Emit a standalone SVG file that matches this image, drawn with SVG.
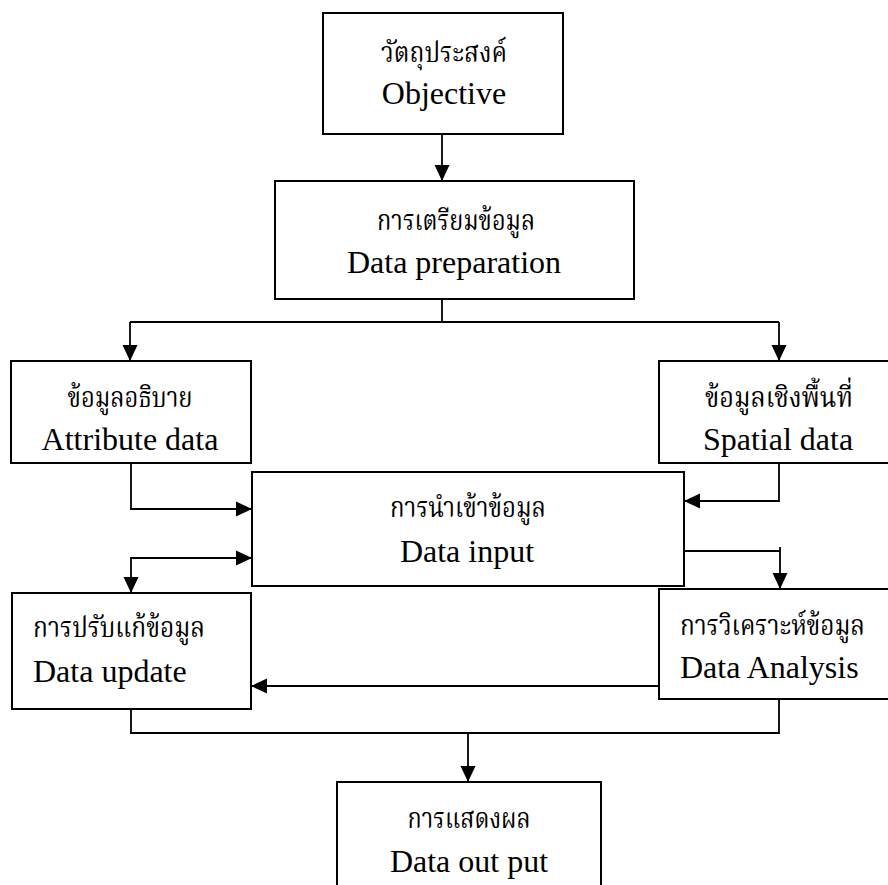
<svg xmlns="http://www.w3.org/2000/svg" width="888" height="885" viewBox="0 0 888 885">
<style>
.box{fill:#fff;stroke:#000;stroke-width:2}
.ln{fill:none;stroke:#000;stroke-width:1.8}
.en{font-family:"Liberation Serif","Times New Roman",serif;font-size:32px;fill:#000}
.th{font-family:"Noto Serif Thai","Noto Sans Thai","Norasi","Garuda","Loma","Liberation Serif",serif;font-size:28px;fill:#000}
.c{text-anchor:middle}
</style>
<defs>
<marker id="ah" markerUnits="userSpaceOnUse" markerWidth="18" markerHeight="18" viewBox="0 0 18 18" refX="16" refY="9" orient="auto-start-reverse">
<path d="M0,1.5 L16,9 L0,16.5 Z" fill="#000"/>
</marker>
</defs>
<rect width="888" height="885" fill="#fff"/>
<g id="connectors">
<path class="ln" d="M442 134 V181" marker-end="url(#ah)"/>
<path class="ln" d="M442 299 V322"/>
<path class="ln" d="M130 322 H779"/>
<path class="ln" d="M130 322 V361" marker-end="url(#ah)"/>
<path class="ln" d="M779 322 V361" marker-end="url(#ah)"/>
<path class="ln" d="M131 463 V509 H252" marker-end="url(#ah)"/>
<path class="ln" d="M779 463 V501 H684" marker-end="url(#ah)"/>
<path class="ln" d="M131 593 V558 H252" marker-start="url(#ah)" marker-end="url(#ah)"/>
<path class="ln" d="M684 551 H780 V589" marker-end="url(#ah)"/>
<path class="ln" d="M780 547 V551"/>
<path class="ln" d="M659 686 H251" marker-end="url(#ah)"/>
<path class="ln" d="M131 709 V733 H779 V699"/>
<path class="ln" d="M468 733 V782" marker-end="url(#ah)"/>
</g>
<g id="objective">
<rect class="box" x="323" y="13" width="240" height="121"/>
<text class="th c" x="444" y="62" textLength="126" lengthAdjust="spacingAndGlyphs">วัตถุประสงค์</text>
<text class="en c" x="444" y="104">Objective</text>
</g>
<g id="data-preparation">
<rect class="box" x="275" y="181" width="359" height="118"/>
<text class="th c" x="456" y="230" textLength="158" lengthAdjust="spacingAndGlyphs">การเตรียมข้อมูล</text>
<text class="en c" x="454" y="273">Data preparation</text>
</g>
<g id="attribute-data">
<rect class="box" x="11" y="361" width="240" height="102"/>
<text class="th c" x="130" y="407" textLength="125" lengthAdjust="spacingAndGlyphs">ข้อมูลอธิบาย</text>
<text class="en c" x="130" y="450">Attribute data</text>
</g>
<g id="spatial-data">
<rect class="box" x="659" y="361" width="235" height="102"/>
<text class="th c" x="779" y="407" textLength="148" lengthAdjust="spacingAndGlyphs">ข้อมูลเชิงพื้นที่</text>
<text class="en c" x="778" y="450">Spatial data</text>
</g>
<g id="data-input">
<rect class="box" x="252" y="472" width="432" height="114"/>
<text class="th c" x="468" y="517" textLength="156" lengthAdjust="spacingAndGlyphs">การนำเข้าข้อมูล</text>
<text class="en c" x="467" y="562">Data input</text>
</g>
<g id="data-update">
<rect class="box" x="12" y="593" width="239" height="116"/>
<text class="th" x="33" y="637" textLength="172" lengthAdjust="spacingAndGlyphs">การปรับแก้ข้อมูล</text>
<text class="en" x="33" y="682">Data update</text>
</g>
<g id="data-analysis">
<rect class="box" x="659" y="589" width="235" height="110"/>
<text class="th" x="680" y="635" textLength="185" lengthAdjust="spacingAndGlyphs">การวิเคราะห์ข้อมูล</text>
<text class="en" x="680" y="678">Data Analysis</text>
</g>
<g id="data-output">
<rect class="box" x="337" y="782" width="264" height="120"/>
<text class="th c" x="469" y="828" textLength="123" lengthAdjust="spacingAndGlyphs">การแสดงผล</text>
<text class="en c" x="469" y="872">Data out put</text>
</g>
</svg>
